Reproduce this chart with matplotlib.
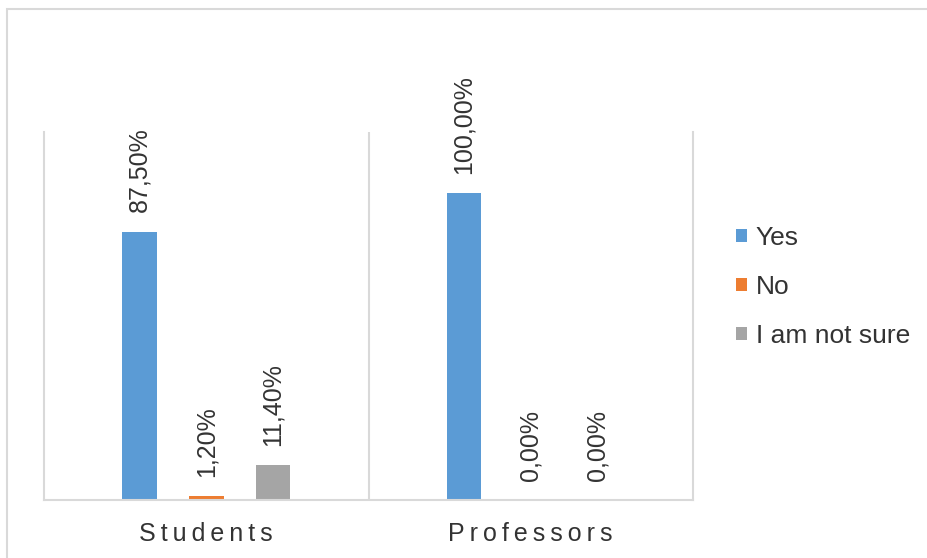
#plot.py


#COMMENT: Imports.

import numpy as np;
import matplotlib;
matplotlib.use('Agg');
import matplotlib.pyplot as plt;
from matplotlib.patches import Rectangle;


#COMMENT: Data.

groups = ['Students', 'Professors'];
series = ['Yes', 'No', 'I am not sure'];
yes_values = [87.5, 100.0];
no_values = [1.2, 0.0];
unsure_values = [11.4, 0.0];
colours = ['#5B9BD5', '#ED7D31', '#A5A5A5'];

plt.rcParams['font.family'] = ['Liberation Sans', 'DejaVu Sans'];
text_colour = '#333333';
line_colour = '#D9D9D9';

#COMMENT: Create the figure and position the plot area.

fig = plt.figure(figsize = (9.27, 5.58), dpi = 100);
ax = fig.add_axes([44 / 927, 58 / 558, 649 / 927, 368 / 558]);

#COMMENT: Outer chart border (runs off the right and bottom edges).

fig.patches.append(Rectangle((7 / 927, -0.1), 1.2, 1 - 9 / 558 + 0.1, transform = fig.transFigure,
                             fill = False, edgecolor = line_colour, linewidth = 1.5));

#COMMENT: Draw the bars.

x = np.arange(len(groups));
offsets = [-0.206, 0.0, 0.206];
width = 0.107;

for values, name, colour, offset in zip([yes_values, no_values, unsure_values], series, colours, offsets):
    bars = ax.bar(x + offset, values, width, color = colour, label = name);
    labels = [('%.2f' % v).replace('.', ',') + '%' for v in values];
    ax.bar_label(bars, labels = labels, rotation = 90, padding = 14, fontsize = 18, color = text_colour);

#COMMENT: Axes styling.

ax.set_xlim(-0.5, 1.5);
ax.set_ylim(0, 120);
ax.set_yticks([]);
ax.set_xticks(x);
ax.set_xticklabels(['\u2009'.join(g) for g in groups], fontsize = 18, color = text_colour);
ax.tick_params(axis = 'x', length = 0, pad = 16);

for side in ['left', 'right', 'bottom']:
    ax.spines[side].set_color(line_colour);
    ax.spines[side].set_linewidth(1.5);
ax.spines['top'].set_visible(False);
ax.axvline(0.5, color = line_colour, linewidth = 1.5);

#COMMENT: Legend to the right of the plot.

ax.legend(loc = 'center left', bbox_to_anchor = (736 / 927, 1 - 287 / 558), bbox_transform = fig.transFigure,
          frameon = False, fontsize = 19, labelcolor = text_colour, handlelength = 0.4, handleheight = 0.4,
          handletextpad = 0.35, labelspacing = 0.95, borderpad = 0, borderaxespad = 0);

#COMMENT: Save the image and clean up.

plt.savefig('out.png', dpi = 100);
plt.close();
